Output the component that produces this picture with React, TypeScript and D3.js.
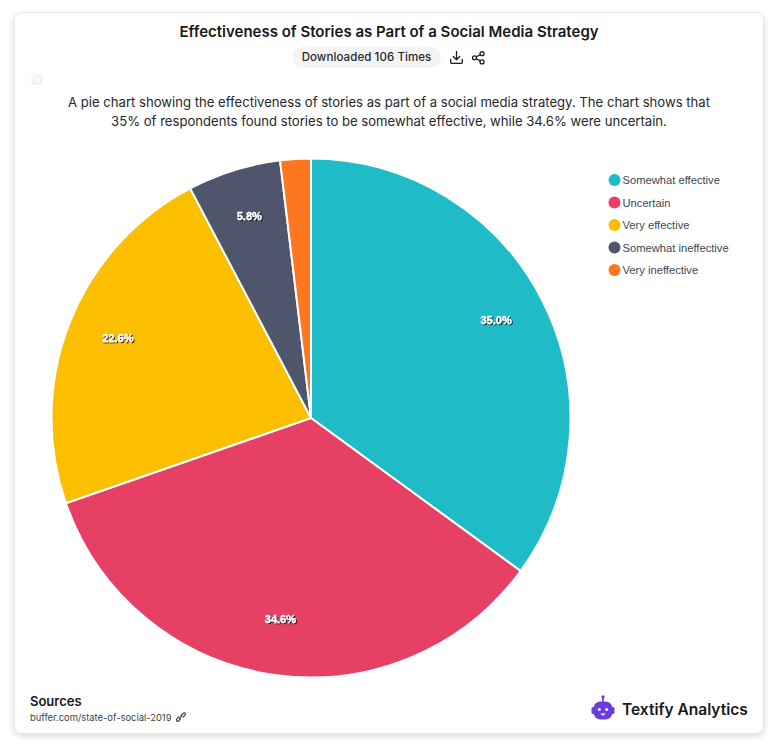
import React from "react";
import * as d3 from "d3";

const categories = ["Somewhat effective", "Uncertain", "Very effective", "Somewhat ineffective", "Very ineffective"];
const values = [35.0, 34.6, 22.6, 5.8, 1.9];
const colors = ["#1fbcc8", "#e64065", "#fbbf00", "#4f566b", "#fd7720"];
const title = "Effectiveness of Stories as Part of a Social Media Strategy";
const descLines = [
  "A pie chart showing the effectiveness of stories as part of a social media strategy. The chart shows that",
  "35% of respondents found stories to be somewhat effective, while 34.6% were uncertain.",
];

const W = 768;
const H = 751;
const cx = 311;
const cy = 418;
const radius = 259.5;
const inter = "Inter, sans-serif";

export default function App() {
  const color = d3.scaleOrdinal<string, string>().domain(categories).range(colors);
  const legendY = d3.scalePoint<string>().domain(categories).range([180, 270]);

  const pie = d3.pie<number>().sort(null).value((d) => d);
  const arcs = pie(values);
  const arc = d3.arc<d3.PieArcDatum<number>>().innerRadius(0).outerRadius(radius);
  const labelArc = d3.arc<d3.PieArcDatum<number>>().innerRadius(radius * 0.8).outerRadius(radius * 0.8);

  return (
    <svg width={W} height={H} style={{ position: "absolute", left: 0, top: 0 }}>
      <defs>
        <filter id="cardShadow" x="-5%" y="-5%" width="110%" height="110%">
          <feDropShadow dx="0" dy="2" stdDeviation="3" floodColor="#000" floodOpacity="0.16" />
        </filter>
        <filter id="labelShadow" x="-20%" y="-40%" width="140%" height="180%">
          <feDropShadow dx="1" dy="1" stdDeviation="0.7" floodColor="#000" floodOpacity="0.85" />
        </filter>
      </defs>
      <rect x={14.5} y={12.5} width={749} height={721} rx={7} fill="#fff" stroke="#e8e8e8" filter="url(#cardShadow)" />

      <text x={389} y={36.5} textAnchor="middle" fontFamily={inter} fontWeight={600} fontSize={15} fill="#18181b">
        {title}
      </text>
      <rect x={292} y={47} width={149} height={21} rx={10.5} fill="#f4f4f5" />
      <text x={366.5} y={61} textAnchor="middle" fontFamily={inter} fontWeight={500} fontSize={11.5} letterSpacing={0.08} fill="#27272a">
        Downloaded 106 Times
      </text>

      {/* download icon */}
      <g transform="translate(450,51)" fill="none" stroke="#18181b" strokeWidth={1.3} strokeLinecap="round" strokeLinejoin="round">
        <path d="M6.5 0.5V8.5M3.3 5.5L6.5 8.7L9.7 5.5M0.7 8.5V11.2Q0.7 12.4 2 12.4H11Q12.3 12.4 12.3 11.2V8.5" />
      </g>
      {/* share icon */}
      <g transform="translate(472,51)" fill="none" stroke="#18181b" strokeWidth={1.3}>
        <circle cx={10} cy={2.7} r={2} />
        <circle cx={2.5} cy={6.8} r={2} />
        <circle cx={10} cy={10.9} r={2} />
        <path d="M4.3 5.8L8.2 3.7M4.3 7.8L8.2 9.9" />
      </g>

      {/* faint bug icon */}
      <g transform="translate(37,79)" fill="none" stroke="#dfe5f3" strokeWidth={1}>
        <ellipse cx={0} cy={0.5} rx={3.5} ry={4.5} />
        <path d="M0 -4V5M-2.5 -4.5L-4.5 -6M2.5 -4.5L4.5 -6M-3.5 -1H-6M3.5 -1H6M-3.5 2H-6M3.5 2H6M-3 4L-5 6M3 4L5 6" />
      </g>

      {descLines.map((line, i) => (
        <text key={i} x={389} y={107 + i * 19} textAnchor="middle" fontFamily={inter} fontSize={13.12} fill="#27272a">
          {line}
        </text>
      ))}

      <g transform={`translate(${cx},${cy})`}>
        {arcs.map((d, i) => (
          <path key={i} d={arc(d) ?? ""} fill={color(categories[i])} stroke="#fff" strokeWidth={2} />
        ))}
        {arcs.map((d, i) => {
          if (values[i] < 5) return null;
          const [x, y] = labelArc.centroid(d);
          return (
            <text
              key={i}
              x={x}
              y={y - 4}
              dy="0.35em"
              textAnchor="middle"
              fontFamily="'Liberation Sans', Arial, sans-serif"
              fontWeight={700}
              fontSize={11}
              fill="#fff"
              stroke="#fff"
              strokeWidth={0.3}
              filter="url(#labelShadow)"
            >
              {d3.format(".1f")(values[i])}%
            </text>
          );
        })}
      </g>

      {categories.map((c) => (
        <g key={c} transform={`translate(614.5,${legendY(c)})`}>
          <circle r={6} fill={color(c)} />
          <text x={8} y={4} fontFamily="'Liberation Sans', Arial, sans-serif" fontSize={11.2} fill="#404652">
            {c}
          </text>
        </g>
      ))}

      <text x={30} y={706} fontFamily={inter} fontWeight={600} fontSize={13} fill="#18181b">
        Sources
      </text>
      <text x={30} y={721} fontFamily={inter} fontSize={9.4} fill="#3f3f46">
        buffer.com/state-of-social-2019
      </text>
      <g transform="translate(176,712.5)" fill="none" stroke="#3f3f46" strokeWidth={1.1} strokeLinecap="round">
        <path d="M4.5 6.5L3 8Q1.5 9.5 0.8 8.6Q-0.2 7.5 1.2 6L3 4.2M5 2.8L7 1Q8.5 -0.2 9.3 0.8Q10 1.8 8.7 3L7 4.7M3.5 5.8L6 3.2" />
      </g>

      {/* logo */}
      <g transform="translate(603,710)" fill="#6d3ce0">
        <circle cx={0} cy={-13} r={1.7} />
        <rect x={-0.8} y={-13} width={1.6} height={5} />
        <rect x={-9.5} y={-8.5} width={19} height={18} rx={7} />
        <rect x={-11.5} y={-3} width={3} height={7} rx={1.5} />
        <rect x={8.5} y={-3} width={3} height={7} rx={1.5} />
        <circle cx={-3.7} cy={-0.5} r={1.5} fill="#fff" />
        <circle cx={3.7} cy={-0.5} r={1.5} fill="#fff" />
        <path d="M-2.5 3.5H2.5Q1.5 5.5 0 5.5Q-1.5 5.5 -2.5 3.5Z" fill="#fff" />
      </g>
      <text x={622} y={715} fontFamily="Inter, sans-serif" fontWeight={600} fontSize={15.5} fill="#18181b">
        Textify Analytics
      </text>
    </svg>
  );
}
